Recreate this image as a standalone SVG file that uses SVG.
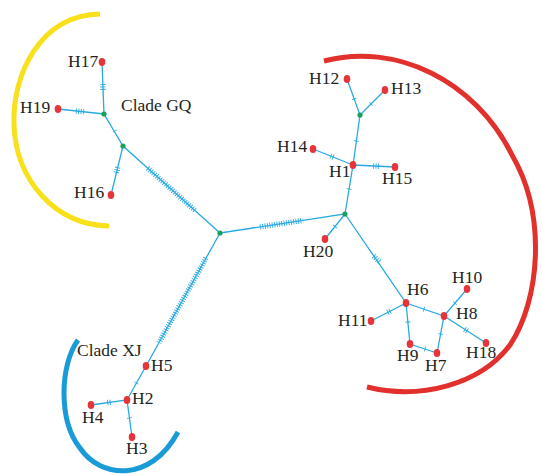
<svg xmlns="http://www.w3.org/2000/svg" width="542" height="475" viewBox="0 0 542 475">
<style>
.e{stroke:#29a9e1;stroke-width:1.3;fill:none}
.t{stroke:#29a9e1;stroke-width:5;fill:none}
.h{stroke:#29a9e1;stroke-width:5.5;stroke-dasharray:0.9 1.5;fill:none}
.n{fill:#e5343a}
.m{fill:#1b9f5c}
.lb{font-family:'Liberation Serif','DejaVu Serif',serif;font-size:17.5px;fill:#231f20}
.arc{fill:none;stroke-width:5;stroke-linecap:butt}
</style>
<rect width="542" height="475" fill="#ffffff"/>
<g id="clades">
<path class="arc" stroke="#f8e11b" d="M100,14 C40,15 12,75 14,125 C16,180 55,225 109,226"/>
<path class="arc" stroke="#e2302c" d="M324,61 C395,42 475,80 512,155 C547,215 540,300 510,345 C480,385 420,400 367,387"/>
<path class="arc" stroke="#1a9bd7" d="M78,340 C60,365 58,420 80,448 C100,478 150,484 178,432"/>
</g>
<g id="connectors">
<path class="e" d="M220,233 L123,146 L104,114 L102,62 M104,114 L58,109 M123,146 L111,195 M220,233 L345,214 L353,165 L360,115 L347,79 M360,115 L385,90 M353,165 L313,149 M353,165 L395,167 M345,214 L325,239 M345,214 L406,303 L371,321 M406,303 L444,316 L467,289 M444,316 L486,343 M406,303 L410,344 L437,353 L444,316 M220,233 L146,366 L127,400 L91,405 M127,400 L132,437"/>
<path class="h" d="M194.8,210.4 L147.25,167.75 M260,226.9 L303,220.4 M206,258.2 L159,342.6"/>
<path class="h" d="M103.1,89.8 L102.9,84.2 M84,111.8 L76,110.9 M117.77,167.28 L116.43,172.72 M333.48,157.19 L330.52,156.01 M373.2,165.97 L378.8,166.23 M373.74,255.9 L380.26,262.5 M390.42,310.97 L387.58,312.43 M464.65,329.23 L467.35,330.97 M110.6,402.3 L107.4,402.7"/>
<path class="t" d="M115.2,131.34 L114.8,130.66 M136.7,382.65 L136.3,383.35 M129.35,417.6 L129.45,418.4 M349.04,189.4 L349.16,188.6 M356.34,141.4 L356.46,140.6 M354.34,99.38 L354.06,98.62 M370.72,104.28 L371.28,103.72 M335.25,226.19 L334.75,226.81 M423.62,309.07 L424.38,309.33 M407.86,321.6 L407.94,322.4 M424.62,348.87 L425.38,349.13 M440.53,334.39 L440.67,333.61 M454.74,303.4 L455.26,302.8"/>
</g>
<g id="median-center"><circle class="m" cx="220" cy="233" r="2.6"/></g>
<g id="median-gq1"><circle class="m" cx="123" cy="146" r="2.6"/></g>
<g id="median-gq2"><circle class="m" cx="104" cy="114" r="2.6"/></g>
<g id="median-right"><circle class="m" cx="345" cy="214" r="2.6"/></g>
<g id="median-top"><circle class="m" cx="360" cy="115" r="2.6"/></g>
<g font-family="Liberation Serif, DejaVu Serif, serif">
<g id="clade-gq-label"><text class="lb" x="121" y="111">Clade GQ</text></g>
<g id="clade-xj-label"><text class="lb" x="77" y="356">Clade XJ</text></g>
<g id="H17"><ellipse class="n" cx="102" cy="62" rx="3.3" ry="4"/><text class="lb" x="68" y="67">H17</text></g>
<g id="H19"><ellipse class="n" cx="58" cy="109" rx="3.3" ry="4"/><text class="lb" x="20" y="113">H19</text></g>
<g id="H16"><ellipse class="n" cx="111" cy="195" rx="3.3" ry="4"/><text class="lb" x="74" y="198">H16</text></g>
<g id="H12"><ellipse class="n" cx="347" cy="79" rx="3.3" ry="4"/><text class="lb" x="309" y="84">H12</text></g>
<g id="H13"><ellipse class="n" cx="385" cy="90" rx="3.3" ry="4"/><text class="lb" x="391" y="94">H13</text></g>
<g id="H14"><ellipse class="n" cx="313" cy="149" rx="3.3" ry="4"/><text class="lb" x="277" y="152">H14</text></g>
<g id="H1"><ellipse class="n" cx="353" cy="165" rx="3.3" ry="4"/><text class="lb" x="329" y="177">H1</text></g>
<g id="H15"><ellipse class="n" cx="395" cy="167" rx="3.3" ry="4"/><text class="lb" x="382" y="184">H15</text></g>
<g id="H20"><ellipse class="n" cx="325" cy="239" rx="3.3" ry="4"/><text class="lb" x="303" y="257">H20</text></g>
<g id="H6"><ellipse class="n" cx="406" cy="303" rx="3.3" ry="4"/><text class="lb" x="407" y="295">H6</text></g>
<g id="H10"><ellipse class="n" cx="467" cy="289" rx="3.3" ry="4"/><text class="lb" x="452" y="283">H10</text></g>
<g id="H8"><ellipse class="n" cx="444" cy="316" rx="3.3" ry="4"/><text class="lb" x="456" y="319">H8</text></g>
<g id="H11"><ellipse class="n" cx="371" cy="321" rx="3.3" ry="4"/><text class="lb" x="338" y="326">H11</text></g>
<g id="H9"><ellipse class="n" cx="410" cy="344" rx="3.3" ry="4"/><text class="lb" x="397" y="361">H9</text></g>
<g id="H7"><ellipse class="n" cx="437" cy="353" rx="3.3" ry="4"/><text class="lb" x="425" y="371">H7</text></g>
<g id="H18"><ellipse class="n" cx="486" cy="343" rx="3.3" ry="4"/><text class="lb" x="466" y="358">H18</text></g>
<g id="H5"><ellipse class="n" cx="146" cy="366" rx="3.3" ry="4"/><text class="lb" x="151" y="371">H5</text></g>
<g id="H2"><ellipse class="n" cx="127" cy="400" rx="3.3" ry="4"/><text class="lb" x="132" y="404">H2</text></g>
<g id="H4"><ellipse class="n" cx="91" cy="405" rx="3.3" ry="4"/><text class="lb" x="82" y="423">H4</text></g>
<g id="H3"><ellipse class="n" cx="132" cy="437" rx="3.3" ry="4"/><text class="lb" x="126" y="454">H3</text></g>
</g>
</svg>
